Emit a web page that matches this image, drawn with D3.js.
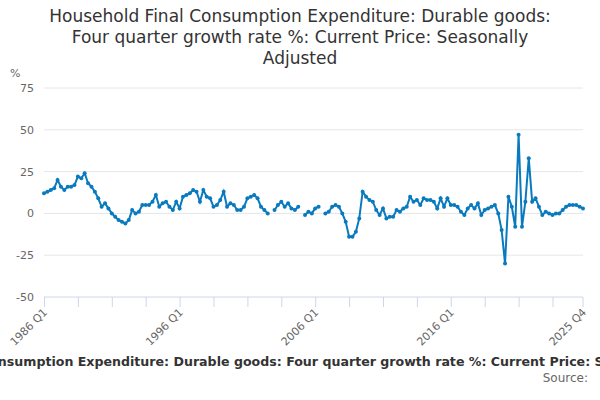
<!DOCTYPE html>
<html><head><meta charset="utf-8">
<script src="https://cdn.jsdelivr.net/npm/d3@7"></script>
<style>body{margin:0;font-family:"DejaVu Sans",sans-serif;background:#fff}</style>
</head><body><svg id="chart" width="600" height="400"></svg>
<script>
// quarterly values 1986 Q1 .. 2025 Q4, null = no data
const values = [
  12,13,14,15, 20,16,14,16, 16,17,22,21, 24,18,16,13, 9,4,6,3,
  0,-2,-4,-5, -6,-4,2,0, 1,5,5,5, 7,11,4,6, 7,4,2,7,
  3,10,11,12, 14,13,7,14, 10,9,4,5, 8,13,4,6, 5,2,2,4,
  9,10,11,9, 4,2,0,null, 2,5,7,4, 6,3,2,4, null,-1,1,0,
  3,4,null,0, 1,4,5,4, 0,-5,-14,-14, -11,-3,13,10, 8,7,2,-1,
  3,-3,-2,-2, 2,1,3,4, 10,7,8,5, 9,8,8,7, 3,9,4,9,
  5,5,4,1, -1,3,5,3, 6,-1,2,3, 4,5,0,-10, -30,10,4,-8,
  47,-8,7,33, 7,9,4,-1, 1,0,-1,0, 0,2,4,5, 5,5,4,3
];
const quarters = values.map((v, i) => (1986 + Math.floor(i / 4)) + " Q" + (i % 4 + 1));
const yTicks = [-50, -25, 0, 25, 50, 75];
const labelIdx = [0, 40, 80, 120, 159];

const svg = d3.select("#chart");
const m = {l: 44, r: 17, t: 88, b: 103};
const W = 600, H = 400;

const x = d3.scaleLinear().domain([0, values.length - 1]).range([m.l, W - m.r]);
const y = d3.scaleLinear().domain([-50, 75]).range([H - m.b, m.t]);

svg.append("text").attr("x", 300).attr("text-anchor", "middle")
  .attr("font-size", 17).attr("fill", "#333")
  .selectAll("tspan")
  .data(["Household Final Consumption Expenditure: Durable goods:",
         "Four quarter growth rate %: Current Price: Seasonally",
         "Adjusted"])
  .join("tspan").attr("x", 300).attr("y", (d, i) => 22 + i * 21).text(d => d);

svg.append("text").attr("x", 10).attr("y", 77).attr("font-size", 11)
  .attr("fill", "#666").text("%");

// grid + y labels
const g = svg.append("g");
g.selectAll("line.grid").data(yTicks.filter(d => d !== -50)).join("line")
  .attr("x1", m.l).attr("x2", W - m.r)
  .attr("y1", d => y(d)).attr("y2", d => y(d))
  .attr("stroke", "#e6e6e6");
g.selectAll("text.yl").data(yTicks).join("text")
  .attr("x", 34).attr("y", d => y(d) + 4).attr("text-anchor", "end")
  .attr("font-size", 11).attr("fill", "#666").text(d => d);

// x axis
const xAxis = d3.axisBottom(x)
  .tickValues(d3.range(0, values.length, 10))
  .tickSize(10).tickFormat("");
const ax = svg.append("g").attr("transform", `translate(0,${y(-50)})`).call(xAxis);
ax.selectAll("path,line").attr("stroke", "#ccd6eb");
ax.select(".domain").attr("d", `M${m.l},0H${W - m.r}`);
svg.append("line").attr("x1", x(159)).attr("x2", x(159))
  .attr("y1", y(-50)).attr("y2", y(-50) + 10).attr("stroke", "#ccd6eb");

svg.selectAll("text.xl").data(labelIdx).join("text")
  .attr("font-size", 11).attr("fill", "#666").attr("text-anchor", "end")
  .attr("transform", i => `translate(${x(i) + 4},${y(-50) + 16}) rotate(-45)`)
  .text(i => quarters[i]);

// line
const line = d3.line().defined(d => d !== null)
  .x((d, i) => x(i)).y(d => y(d));
svg.append("path").datum(values).attr("d", line)
  .attr("fill", "none").attr("stroke", "#0a7abf").attr("stroke-width", 2);
svg.selectAll("circle").data(values.map((v, i) => [i, v]).filter(d => d[1] !== null))
  .join("circle").attr("cx", d => x(d[0])).attr("cy", d => y(d[1]))
  .attr("r", 2).attr("fill", "#0a7abf");

// caption (wider than the frame, as in the original)
svg.append("text").attr("x", 300).attr("y", 366).attr("text-anchor", "middle")
  .attr("font-size", 12.6).attr("font-weight", "bold").attr("fill", "#333")
  .text("Household Final Consumption Expenditure: Durable goods: Four quarter growth rate %: Current Price: Seasonally Adjusted");
svg.append("text").attr("x", 588).attr("y", 382).attr("text-anchor", "end")
  .attr("font-size", 12).attr("fill", "#666").text("Source:");
</script></body></html>
